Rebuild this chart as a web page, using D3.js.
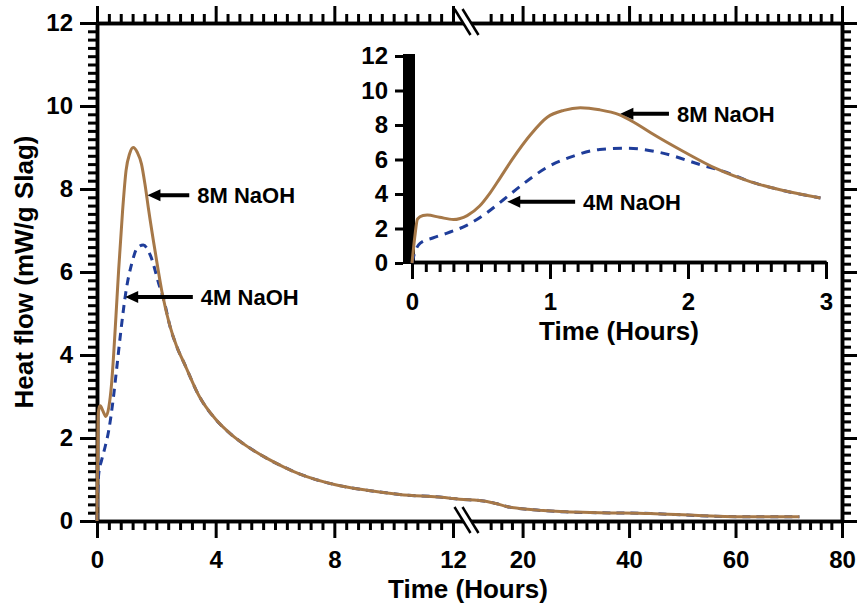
<!DOCTYPE html>
<html>
<head>
<meta charset="utf-8">
<script src="https://cdn.jsdelivr.net/npm/d3@7"></script>
<style>
  html, body { margin: 0; padding: 0; background: #fff; }
  svg text { font-family: "Liberation Sans", Arial, sans-serif; font-weight: bold; fill: #000; }
</style>
</head>
<body>
<div id="chart"></div>
<script>
// heat flow curves (hours, mW/g slag)
const time8 = [0, 0.02, 0.04, 0.08, 0.11, 0.2, 0.3, 0.4, 0.49, 0.565, 0.64, 0.73, 0.86, 0.98, 1.1, 1.22, 1.36, 1.5, 1.62, 1.73, 1.97, 2.21, 2.45, 2.69, 2.96, 3.45, 4.0, 4.5, 5.1, 5.7, 6.3, 6.84, 8, 9.1, 10.2, 11.9, 12, 13.3, 15, 17, 22, 28, 34.5, 44, 53, 62.7, 72];
const flow8 = [0, 1.5, 2.55, 2.75, 2.78, 2.65, 2.52, 2.75, 3.3, 4.05, 4.95, 6.05, 7.45, 8.45, 8.85, 9.0, 8.88, 8.6, 8.1, 7.55, 6.45, 5.45, 4.72, 4.2, 3.77, 3.0, 2.45, 2.1, 1.78, 1.52, 1.3, 1.13, 0.88, 0.74, 0.64, 0.55, 0.54, 0.47, 0.42, 0.35, 0.27, 0.22, 0.2, 0.18, 0.13, 0.1, 0.1];

const time4 = [0, 0.02, 0.06, 0.15, 0.25, 0.4, 0.54, 0.66, 0.8, 0.98, 1.17, 1.36, 1.56, 1.8, 2.09, 2.28, 2.45, 2.69, 2.96, 3.45, 4.0, 4.5, 5.1, 5.7, 6.3, 6.84, 8, 9.1, 10.2, 11.9, 12, 13.3, 15, 17, 22, 28, 34.5, 44, 53, 62.7, 72];
const flow4 = [0, 0.6, 1.15, 1.45, 1.72, 2.2, 2.9, 3.65, 4.55, 5.55, 6.2, 6.58, 6.65, 6.4, 5.7, 5.25, 4.72, 4.2, 3.77, 3.0, 2.45, 2.1, 1.78, 1.52, 1.3, 1.13, 0.88, 0.74, 0.64, 0.55, 0.54, 0.47, 0.42, 0.35, 0.27, 0.22, 0.2, 0.18, 0.13, 0.1, 0.1];

const xMajor = [0, 4, 8, 12, 20, 40, 60, 80];
const yMajor = [0, 2, 4, 6, 8, 10, 12];
const insetXMajor = [0, 1, 2, 3];
const insetYMajor = [0, 2, 4, 6, 8, 10, 12];

// arrow tip (t, v) on the curve, label start tText, in data units of its plot
const labels = [
  { text: "8M NaOH", plot: "main", t: 1.7, v: 7.85, tText: 3.38 },
  { text: "4M NaOH", plot: "main", t: 0.95, v: 5.4, tText: 3.5 },
  { text: "8M NaOH", plot: "inset", t: 1.51, v: 8.65, tText: 1.92 },
  { text: "4M NaOH", plot: "inset", t: 0.69, v: 3.55, tText: 1.24 }
];

const W = 857, H = 607;
const C8 = "#a67848", C4 = "#1f3d9a";

const svg = d3.select("#chart").append("svg")
  .attr("width", W).attr("height", H);

// main scales, x has a broken axis at 12 h
const x = d3.scaleLinear().domain([0, 12, 12.0001, 80]).range([97, 453, 480, 842]);
const y = d3.scaleLinear().domain([0, 12]).range([521, 23]);

const xMinor = d3.range(0, 12.01, 0.4).concat(d3.range(14, 80.1, 2))
  .filter(d => !xMajor.some(m => Math.abs(m - d) < 1e-6));
const yMinor = d3.range(0, 12.01, 0.2).filter(d => Math.abs(d / 2 - Math.round(d / 2)) > 1e-6);

function styleAxis(g) {
  g.select(".domain").attr("stroke", "#000").attr("stroke-width", 3.5);
  g.selectAll(".tick line").attr("stroke", "#000").attr("stroke-width", 3);
  g.selectAll(".tick text").style("font-size", "24px");
}

function drawAxis(gen, tx, ty) {
  return svg.append("g").attr("transform", `translate(${tx},${ty})`).call(gen).call(styleAxis);
}

// main frame
drawAxis(d3.axisBottom(x).tickValues(xMinor).tickSize(9).tickSizeOuter(0).tickFormat(""), 0, 521);
drawAxis(d3.axisBottom(x).tickValues(xMajor).tickSize(17).tickSizeOuter(0).tickPadding(13).tickFormat(d3.format("d")), 0, 521);
drawAxis(d3.axisTop(x).tickValues(xMinor).tickSize(9).tickSizeOuter(0).tickFormat(""), 0, 23);
drawAxis(d3.axisTop(x).tickValues(xMajor).tickSize(17).tickSizeOuter(0).tickFormat(""), 0, 23);
drawAxis(d3.axisLeft(y).tickValues(yMinor).tickSize(9).tickSizeOuter(0).tickFormat(""), 97, 0);
drawAxis(d3.axisLeft(y).tickValues(yMajor).tickSize(17).tickSizeOuter(0).tickPadding(7).tickFormat(d3.format("d")), 97, 0);
drawAxis(d3.axisRight(y).tickValues(yMinor).tickSize(9).tickSizeOuter(0).tickFormat(""), 842, 0);
drawAxis(d3.axisRight(y).tickValues(yMajor).tickSize(17).tickSizeOuter(0).tickFormat(""), 842, 0);

// axis break marks
[23, 521].forEach(ay => {
  const bx = (x(12) + x(12.0001)) / 2;
  const g = svg.append("g").attr("transform", `translate(${bx},${ay})`);
  g.append("polygon").attr("points", "-12,-14 -4,-14 12,12 4,12").attr("fill", "#fff");
  g.append("line").attr("x1", -12).attr("y1", -14).attr("x2", 4).attr("y2", 12)
    .attr("stroke", "#000").attr("stroke-width", 2.5);
  g.append("line").attr("x1", -4).attr("y1", -14).attr("x2", 12).attr("y2", 12)
    .attr("stroke", "#000").attr("stroke-width", 2.5);
});

// curves
const series4 = time4.map((t, i) => ({ t, v: flow4[i] }));
const series8 = time8.map((t, i) => ({ t, v: flow8[i] }));

const lineMain = d3.line().x(d => x(d.t)).y(d => y(d.v)).curve(d3.curveMonotoneX);
svg.append("path").datum(series4).attr("d", lineMain)
  .attr("fill", "none").attr("stroke", C4).attr("stroke-width", 3).attr("stroke-dasharray", "8,6");
svg.append("path").datum(series8).attr("d", lineMain)
  .attr("fill", "none").attr("stroke", C8).attr("stroke-width", 3);

// axis titles
svg.append("text").attr("x", 468).attr("y", 598).attr("text-anchor", "middle")
  .style("font-size", "26px").text("Time (Hours)");
svg.append("text").attr("transform", "translate(33,272) rotate(-90)").attr("text-anchor", "middle")
  .style("font-size", "26px").text("Heat flow (mW/g Slag)");

// inset
const xi = d3.scaleLinear().domain([0, 3]).range([412, 826]);
const yi = d3.scaleLinear().domain([0, 12]).range([263, 56]);
const insetXMinor = d3.range(0, 3.001, 0.1).filter(d => Math.abs(d - Math.round(d)) > 1e-6);

drawAxis(d3.axisBottom(xi).tickValues(insetXMinor).tickSize(10).tickSizeOuter(0).tickFormat(""), 0, 262);
drawAxis(d3.axisBottom(xi).tickValues(insetXMajor).tickSize(17).tickSizeOuter(0).tickPadding(14).tickFormat(d3.format("d")), 0, 262);
svg.append("line").attr("x1", 403).attr("x2", 412).attr("y1", 262).attr("y2", 262)
  .attr("stroke", "#000").attr("stroke-width", 3.5);
svg.append("rect").attr("x", 403).attr("y", 54).attr("width", 12).attr("height", 210).attr("fill", "#000");
const yiAxis = drawAxis(d3.axisLeft(yi).tickValues(insetYMajor).tickSize(8).tickSizeOuter(0).tickPadding(7).tickFormat(d3.format("d")), 403, 0);
yiAxis.select(".domain").remove();

const lineInset = d3.line().x(d => xi(d.t)).y(d => yi(d.v)).curve(d3.curveMonotoneX);
svg.append("path").datum(series4.filter(d => d.t <= 2.96)).attr("d", lineInset)
  .attr("fill", "none").attr("stroke", C4).attr("stroke-width", 3).attr("stroke-dasharray", "9,7");
svg.append("path").datum(series8.filter(d => d.t <= 2.96)).attr("d", lineInset)
  .attr("fill", "none").attr("stroke", C8).attr("stroke-width", 3);

svg.append("text").attr("x", 619).attr("y", 340).attr("text-anchor", "middle")
  .style("font-size", "26px").text("Time (Hours)");

// arrow labels
labels.forEach(l => {
  const sx = l.plot === "main" ? x : xi;
  const sy = l.plot === "main" ? y : yi;
  const tipX = sx(l.t), tipY = sy(l.v);
  const textX = sx(l.tText);
  const g = svg.append("g");
  g.append("line").attr("x1", tipX + 8).attr("y1", tipY).attr("x2", textX - 8).attr("y2", tipY)
    .attr("stroke", "#000").attr("stroke-width", 4);
  g.append("path").attr("d", `M${tipX},${tipY} L${tipX + 13},${tipY - 6} L${tipX + 13},${tipY + 6} Z`)
    .attr("fill", "#000");
  g.append("text").attr("x", textX).attr("y", tipY + 8)
    .style("font-size", "22px").text(l.text);
});
</script>
</body>
</html>
